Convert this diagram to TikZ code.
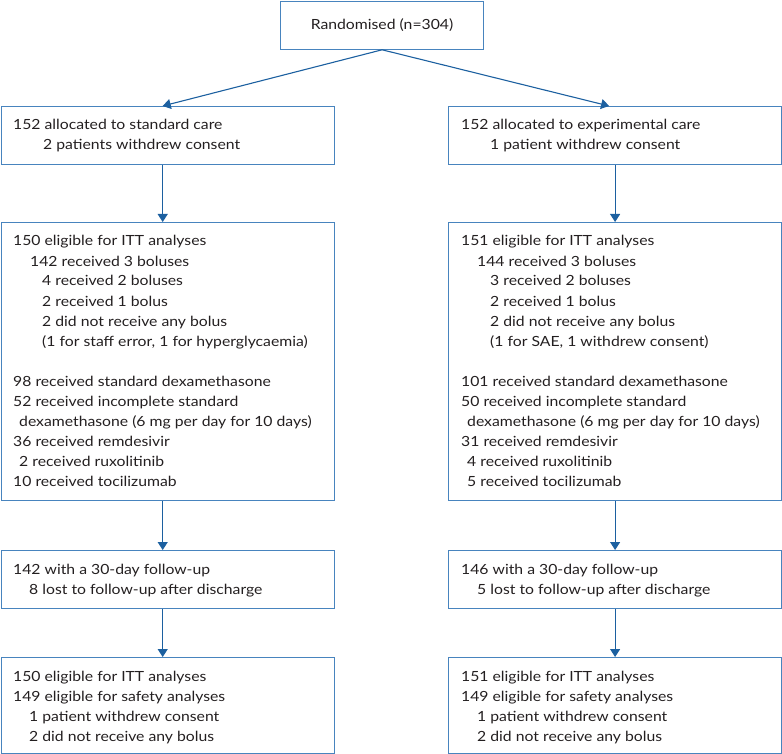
\documentclass[tikz,border=0pt]{standalone}
\usepackage{fontspec}
\setmainfont{Lato}[FakeStretch=1.125]
\usetikzlibrary{arrows.meta}
\definecolor{boxblue}{RGB}{72,132,190}
\definecolor{arrblue}{RGB}{28,96,160}
\definecolor{txt}{RGB}{35,31,32}
\tikzset{
  frame/.style={draw=boxblue, line width=1.2pt, inner sep=0pt, anchor=north west},
  ln/.style={anchor=base west, inner sep=0pt, text=txt, font=\fontsize{14pt}{20pt}\selectfont},
  conn/.style={draw=arrblue, line width=1.1pt, -{Triangle[length=8pt,width=10pt]}}
}
\begin{document}
\begin{tikzpicture}[x=1pt,y=-1pt]
\useasboundingbox (0,0) rectangle (782,754);
% boxes
\node[frame, minimum width=203pt, minimum height=48pt] (top) at (280,0.6) {};
\node[frame, minimum width=333pt, minimum height=58pt] (L1) at (0.6,106) {};
\node[frame, minimum width=333pt, minimum height=58pt] (R1) at (448,106) {};
\node[frame, minimum width=333pt, minimum height=278pt] (L2) at (0.6,222) {};
\node[frame, minimum width=333pt, minimum height=278pt] (R2) at (448,222) {};
\node[frame, minimum width=333pt, minimum height=58pt] (L3) at (0.6,550) {};
\node[frame, minimum width=333pt, minimum height=58pt] (R3) at (448,550) {};
\node[frame, minimum width=333pt, minimum height=96pt] (L4) at (0.6,657) {};
\node[frame, minimum width=333pt, minimum height=96pt] (R4) at (448,657) {};
% top text
\node[ln, anchor=base] (t0) at (382,30) {Randomised (n=304)};
% left texts
\node[ln] (a1) at (13,130) {152 allocated to standard care};
\node[ln] (a2) at (43,150) {2 patients withdrew consent};
\node[ln] (b1) at (13,246) {150 eligible for ITT analyses};
\node[ln] (b2) at (30,266) {142 received 3 boluses};
\node[ln] (b3) at (42,286) {4 received 2 boluses};
\node[ln] (b4) at (42,306) {2 received 1 bolus};
\node[ln] (b5) at (42,326) {2 did not receive any bolus};
\node[ln] (b6) at (42,346) {(1 for staff error, 1 for hyperglycaemia)};
\node[ln] (b7) at (13,386) {98 received standard dexamethasone};
\node[ln] (b8) at (13,406) {52 received incomplete standard};
\node[ln] (b9) at (19,426) {dexamethasone (6 mg per day for 10 days)};
\node[ln] (b10) at (13,446) {36 received remdesivir};
\node[ln] (b11) at (19,466) {2 received ruxolitinib};
\node[ln] (b12) at (13,486) {10 received tocilizumab};
\node[ln] (c1) at (13,574) {142 with a 30-day follow-up};
\node[ln] (c2) at (29,594) {8 lost to follow-up after discharge};
\node[ln] (d1) at (13,681) {150 eligible for ITT analyses};
\node[ln] (d2) at (13,701) {149 eligible for safety analyses};
\node[ln] (d3) at (29,721) {1 patient withdrew consent};
\node[ln] (d4) at (29,741) {2 did not receive any bolus};
% right texts
\node[ln] (e1) at (461,130) {152 allocated to experimental care};
\node[ln] (e2) at (490,150) {1 patient withdrew consent};
\node[ln] (f1) at (461,246) {151 eligible for ITT analyses};
\node[ln] (f2) at (477,266) {144 received 3 boluses};
\node[ln] (f3) at (490,286) {3 received 2 boluses};
\node[ln] (f4) at (490,306) {2 received 1 bolus};
\node[ln] (f5) at (490,326) {2 did not receive any bolus};
\node[ln] (f6) at (490,346) {(1 for SAE, 1 withdrew consent)};
\node[ln] (f7) at (461,386) {101 received standard dexamethasone};
\node[ln] (f8) at (461,406) {50 received incomplete standard};
\node[ln] (f9) at (467,426) {dexamethasone (6 mg per day for 10 days)};
\node[ln] (f10) at (461,446) {31 received remdesivir};
\node[ln] (f11) at (467,466) {4 received ruxolitinib};
\node[ln] (f12) at (467,486) {5 received tocilizumab};
\node[ln] (g1) at (461,574) {146 with a 30-day follow-up};
\node[ln] (g2) at (477,594) {5 lost to follow-up after discharge};
\node[ln] (h1) at (461,681) {151 eligible for ITT analyses};
\node[ln] (h2) at (461,701) {149 eligible for safety analyses};
\node[ln] (h3) at (477,721) {1 patient withdrew consent};
\node[ln] (h4) at (477,741) {2 did not receive any bolus};
% connectors
\draw[conn] (top.south) -- ([xshift=-5pt]L1.north);
\draw[conn] (top.south) -- ([xshift=-6pt]R1.north);
\draw[conn] ([xshift=-5pt]L1.south) -- ([xshift=-5pt]L2.north);
\draw[conn] ([xshift=-5pt]L2.south) -- ([xshift=-5pt]L3.north);
\draw[conn] ([xshift=-5pt]L3.south) -- ([xshift=-5pt]L4.north);
\draw[conn] (R1.south) -- (R2.north);
\draw[conn] (R2.south) -- (R3.north);
\draw[conn] (R3.south) -- (R4.north);
\end{tikzpicture}
\end{document}
